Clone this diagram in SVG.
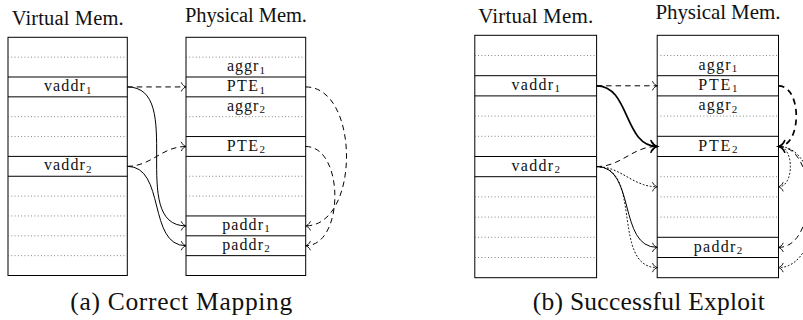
<svg xmlns="http://www.w3.org/2000/svg" width="803" height="320" viewBox="0 0 803 320">
  <defs>
    <!-- open curved arrow tips, thin and bold -->
    <marker id="tip" markerUnits="userSpaceOnUse" viewBox="-6 -6 8 12" markerWidth="8" markerHeight="12" refX="0" refY="0" orient="auto" overflow="visible">
      <path d="M-4.6,-4.2 C-3.6,-1.6 -1.2,-0.4 0,0 C-1.2,0.4 -3.6,1.6 -4.6,4.2" fill="none" stroke="#000" stroke-width="0.9" stroke-linecap="round"/>
    </marker>
    <marker id="tipBold" markerUnits="userSpaceOnUse" viewBox="-8 -8 10 16" markerWidth="10" markerHeight="16" refX="0" refY="0" orient="auto" overflow="visible">
      <path d="M-6.2,-5.8 C-4.8,-2.2 -1.6,-0.5 0,0 C-1.6,0.5 -4.8,2.2 -6.2,5.8" fill="none" stroke="#000" stroke-width="1.6" stroke-linecap="round"/>
    </marker>
  </defs>
  <style>
    .box { fill: #fff; stroke: #000; stroke-width: 1; }
    .sep { stroke: #000; stroke-width: 1; }
    .dot { stroke: #555; stroke-width: 0.8; stroke-dasharray: 0.9 2.4; }
    text { font-family: "Liberation Serif", "Times New Roman", serif; fill: #111; text-anchor: middle; }
    .head { font-size: 20.5px; }
    .lbl { font-size: 16px; }
    .sub { font-size: 11px; }
    .cap { font-size: 25.5px; }
    .c { fill: none; stroke: #000; }
    .solid { stroke-width: 1; marker-end: url(#tip); }
    .bold { stroke-width: 1.7; marker-end: url(#tipBold); }
    .dash { stroke-width: 1; stroke-dasharray: 5.5 4; marker-end: url(#tip); }
    .dashBold { stroke-width: 1.7; stroke-dasharray: 6 4.5; marker-end: url(#tipBold); }
    .dotted { stroke-width: 1; stroke-dasharray: 1 2.6; stroke-linecap: round; marker-end: url(#tip); }
  </style>

  <!-- ===================== (a) Correct Mapping ===================== -->
  <g id="a-virtual">
    <text class="head" x="67.7" y="25" textLength="112">Virtual Mem.</text>
    <rect class="box" x="8" y="37.3" width="119.3" height="238.2"/>
    <line class="dot" x1="8" y1="57.15" x2="127.3" y2="57.15"/>
    <line class="sep" x1="8" y1="77" x2="127.3" y2="77"/>
    <line class="sep" x1="8" y1="96.85" x2="127.3" y2="96.85"/>
    <line class="dot" x1="8" y1="116.7" x2="127.3" y2="116.7"/>
    <line class="dot" x1="8" y1="136.55" x2="127.3" y2="136.55"/>
    <line class="sep" x1="8" y1="156.4" x2="127.3" y2="156.4"/>
    <line class="sep" x1="8" y1="176.25" x2="127.3" y2="176.25"/>
    <line class="dot" x1="8" y1="196.1" x2="127.3" y2="196.1"/>
    <line class="dot" x1="8" y1="215.95" x2="127.3" y2="215.95"/>
    <line class="dot" x1="8" y1="235.8" x2="127.3" y2="235.8"/>
    <line class="dot" x1="8" y1="255.65" x2="127.3" y2="255.65"/>
    <text class="lbl" x="67.7" y="91" textLength="47.5">vaddr<tspan class="sub" dy="2.5">1</tspan></text>
    <text class="lbl" x="67.7" y="170.4" textLength="47.5">vaddr<tspan class="sub" dy="2.5">2</tspan></text>
  </g>

  <g id="a-physical">
    <text class="head" x="245.9" y="21.7" textLength="122">Physical Mem.</text>
    <rect class="box" x="186" y="37.3" width="119.7" height="238.2"/>
    <line class="dot" x1="186" y1="57.15" x2="305.7" y2="57.15"/>
    <line class="sep" x1="186" y1="77" x2="305.7" y2="77"/>
    <line class="sep" x1="186" y1="96.85" x2="305.7" y2="96.85"/>
    <line class="dot" x1="186" y1="116.7" x2="305.7" y2="116.7"/>
    <line class="sep" x1="186" y1="136.55" x2="305.7" y2="136.55"/>
    <line class="sep" x1="186" y1="156.4" x2="305.7" y2="156.4"/>
    <line class="dot" x1="186" y1="176.25" x2="305.7" y2="176.25"/>
    <line class="dot" x1="186" y1="196.1" x2="305.7" y2="196.1"/>
    <line class="sep" x1="186" y1="215.95" x2="305.7" y2="215.95"/>
    <line class="sep" x1="186" y1="235.8" x2="305.7" y2="235.8"/>
    <line class="sep" x1="186" y1="255.65" x2="305.7" y2="255.65"/>
    <text class="lbl" x="245.9" y="71.2" textLength="38">aggr<tspan class="sub" dy="2.5">1</tspan></text>
    <text class="lbl" x="245.9" y="91" textLength="38.4">PTE<tspan class="sub" dy="2.5">1</tspan></text>
    <text class="lbl" x="245.9" y="110.8" textLength="38">aggr<tspan class="sub" dy="2.5">2</tspan></text>
    <text class="lbl" x="245.9" y="150.5" textLength="38.4">PTE<tspan class="sub" dy="2.5">2</tspan></text>
    <text class="lbl" x="245.9" y="229.9" textLength="47.5">paddr<tspan class="sub" dy="2.5">1</tspan></text>
    <text class="lbl" x="245.9" y="249.8" textLength="47.5">paddr<tspan class="sub" dy="2.5">2</tspan></text>
  </g>

  <g id="a-connectors">
    <path class="c dash" d="M127.3,86.93 L186,86.93"/>
    <path class="c solid" d="M127.3,86.93 C186.4,86.93 126.9,225.88 186,225.88"/>
    <path class="c dash" d="M127.3,166.33 C151.6,166.33 161.7,146.48 186,146.48"/>
    <path class="c solid" d="M127.3,166.33 C166,166.33 147.3,245.73 186,245.73"/>
    <path class="c dash" d="M305.7,86.93 C360.1,86.93 360.1,225.88 305.7,225.88"/>
    <path class="c dash" d="M305.7,146.48 C344.6,146.48 344.6,245.73 305.7,245.73"/>
  </g>

  <text id="a-caption" class="cap" x="181.3" y="310" textLength="222">(a) Correct Mapping</text>

  <!-- ===================== (b) Successful Exploit ===================== -->
  <g id="b-virtual">
    <text class="head" x="535.7" y="22.7" textLength="115" style="font-size:21px">Virtual Mem.</text>
    <rect class="box" x="474.8" y="35.3" width="121.8" height="242.4"/>
    <line class="dot" x1="474.8" y1="55.5" x2="596.6" y2="55.5"/>
    <line class="sep" x1="474.8" y1="75.7" x2="596.6" y2="75.7"/>
    <line class="sep" x1="474.8" y1="95.9" x2="596.6" y2="95.9"/>
    <line class="dot" x1="474.8" y1="116.1" x2="596.6" y2="116.1"/>
    <line class="dot" x1="474.8" y1="136.3" x2="596.6" y2="136.3"/>
    <line class="sep" x1="474.8" y1="156.5" x2="596.6" y2="156.5"/>
    <line class="sep" x1="474.8" y1="176.7" x2="596.6" y2="176.7"/>
    <line class="dot" x1="474.8" y1="196.9" x2="596.6" y2="196.9"/>
    <line class="dot" x1="474.8" y1="217.1" x2="596.6" y2="217.1"/>
    <line class="dot" x1="474.8" y1="237.3" x2="596.6" y2="237.3"/>
    <line class="dot" x1="474.8" y1="257.5" x2="596.6" y2="257.5"/>
    <text class="lbl" x="535.7" y="89.9" textLength="48.5">vaddr<tspan class="sub" dy="2.5">1</tspan></text>
    <text class="lbl" x="535.7" y="170.7" textLength="48.5">vaddr<tspan class="sub" dy="2.5">2</tspan></text>
  </g>

  <g id="b-physical">
    <text class="head" x="717.9" y="19.3" textLength="125" style="font-size:21px">Physical Mem.</text>
    <rect class="box" x="657.2" y="35.3" width="121.3" height="242.4"/>
    <line class="dot" x1="657.2" y1="55.5" x2="778.5" y2="55.5"/>
    <line class="sep" x1="657.2" y1="75.7" x2="778.5" y2="75.7"/>
    <line class="sep" x1="657.2" y1="95.9" x2="778.5" y2="95.9"/>
    <line class="dot" x1="657.2" y1="116.1" x2="778.5" y2="116.1"/>
    <line class="sep" x1="657.2" y1="136.3" x2="778.5" y2="136.3"/>
    <line class="sep" x1="657.2" y1="156.5" x2="778.5" y2="156.5"/>
    <line class="dot" x1="657.2" y1="176.7" x2="778.5" y2="176.7"/>
    <line class="dot" x1="657.2" y1="196.9" x2="778.5" y2="196.9"/>
    <line class="dot" x1="657.2" y1="217.1" x2="778.5" y2="217.1"/>
    <line class="sep" x1="657.2" y1="237.3" x2="778.5" y2="237.3"/>
    <line class="sep" x1="657.2" y1="257.5" x2="778.5" y2="257.5"/>
    <text class="lbl" x="717.9" y="69.7" textLength="38.8">aggr<tspan class="sub" dy="2.5">1</tspan></text>
    <text class="lbl" x="717.9" y="89.9" textLength="39.2">PTE<tspan class="sub" dy="2.5">1</tspan></text>
    <text class="lbl" x="717.9" y="110.1" textLength="38.8">aggr<tspan class="sub" dy="2.5">2</tspan></text>
    <text class="lbl" x="717.9" y="150.5" textLength="39.2">PTE<tspan class="sub" dy="2.5">2</tspan></text>
    <text class="lbl" x="717.9" y="251.5" textLength="48.5">paddr<tspan class="sub" dy="2.5">2</tspan></text>
  </g>

  <g id="b-connectors">
    <path class="c dash" d="M596.6,85.8 L657.2,85.8"/>
    <path class="c bold" d="M596.6,85.8 C630.2,85.8 623.6,146.4 657.2,146.4"/>
    <path class="c dash" d="M596.6,166.6 C621.6,166.6 632.2,146.4 657.2,146.4"/>
    <path class="c solid" d="M596.6,166.6 C636.1,166.6 617.7,247.4 657.2,247.4"/>
    <path class="c dotted" d="M596.6,166.6 C621.6,166.6 632.2,186.8 657.2,186.8"/>
    <path class="c dotted" d="M596.6,166.6 C642.7,166.6 611.1,267.6 657.2,267.6"/>
    <path class="c dashBold" d="M778.5,85.8 C802.2,85.8 802.2,146.4 778.5,146.4"/>
    <path class="c dotted" d="M778.5,146.4 C794.3,146.4 794.3,186.8 778.5,186.8"/>
    <path class="c dash" d="M778.5,146.4 C818,146.4 818,247.4 778.5,247.4"/>
    <path class="c dotted" d="M778.5,146.4 C826,146.4 826,267.6 778.5,267.6"/>
  </g>

  <text id="b-caption" class="cap" x="648.8" y="310" textLength="232">(b) Successful Exploit</text>
</svg>
